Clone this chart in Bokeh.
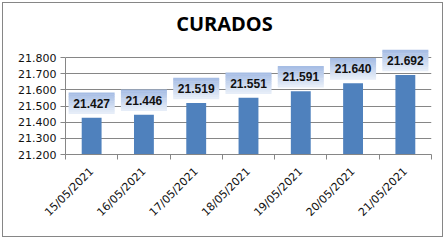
import math
from bokeh.plotting import figure
from bokeh.models import (Range1d, NumeralTickFormatter, Label, LabelSet,
                          ColumnDataSource, FixedTicker)
from bokeh.core.properties import value
from bokeh.embed import file_html
from bokeh.resources import INLINE

dates = ["15/05/2021", "16/05/2021", "17/05/2021", "18/05/2021",
         "19/05/2021", "20/05/2021", "21/05/2021"]
values = [21.427, 21.446, 21.519, 21.551, 21.591, 21.640, 21.692]
labels = ["21.427", "21.446", "21.519", "21.551", "21.591", "21.640", "21.692"]
y_ticks = [21.2, 21.3, 21.4, 21.5, 21.6, 21.7, 21.8]
title_text = "CURADOS"

xs = [i + 0.5 for i in range(len(dates))]

W, H = 441, 235          # inner size (inside a 1px css border placed at 2px)
OFF = 3                  # page offset of the figure's content
ymin, ymax = 21.2, 21.8
axis_top_px = 57 - OFF   # canvas y of 21.800
axis_bot_px = 154 - OFF  # canvas y of 21.200
px_per_unit = (axis_bot_px - axis_top_px) / (ymax - ymin)
frame_top_px = 6 - OFF
BL = 65 - OFF
BR = W - (431 - OFF)
BT = frame_top_px
BB = H - axis_bot_px
ytop = ymax + (axis_top_px - frame_top_px) / px_per_unit

p = figure(width=W, height=H, x_range=Range1d(0, len(dates)), y_range=Range1d(ymin, ytop),
           output_backend="svg", toolbar_location=None,
           min_border_left=BL, min_border_right=BR, min_border_top=BT, min_border_bottom=BB)
p.styles = {"position": "absolute", "left": "2px", "top": "2px",
            "border": "1px solid #868686"}
p.outline_line_color = None
p.background_fill_color = "white"
p.border_fill_color = "white"

p.vbar(x=xs, top=values, bottom=ymin, width=0.38, fill_color="#4f81bd", line_color=None)

# gradient boxes for data labels
box_h = 21
gap = 4
n = 12
top_col = (0xa6, 0xbd, 0xe4)
bot_col = (0xe6, 0xed, 0xf8)
strip = box_h / n
for i in range(n):
    t = i / (n - 1)
    c = tuple(int(round(top_col[k] * (1 - t) + bot_col[k] * t)) for k in range(3))
    col = "#%02x%02x%02x" % c
    off_px = gap + box_h - (i + 0.5) * strip
    ys = [v + off_px / px_per_unit for v in values]
    p.rect(x=xs, y=ys, width=46, height=strip + 0.6, width_units="screen",
           height_units="screen", fill_color=col, line_color=None)

src = ColumnDataSource(dict(x=xs, y=[v + (gap + box_h / 2) / px_per_unit for v in values], t=labels))
p.add_layout(LabelSet(x="x", y="y", text="t", source=src, text_align="center",
                      text_baseline="middle", text_font=value("Liberation Sans"),
                      text_font_style="bold", text_font_size="12px", text_color="#111111"))

# y axis
p.yaxis.ticker = FixedTicker(ticks=y_ticks)
p.yaxis.bounds = (ymin, ymax)
p.yaxis.formatter = NumeralTickFormatter(format="0.000")
p.yaxis.major_label_text_font = "DejaVu Sans"
p.yaxis.major_label_text_font_size = "11px"
p.yaxis.major_label_text_color = "#111111"
p.yaxis.axis_line_color = "#868686"
p.yaxis.major_tick_line_color = "#868686"
p.yaxis.major_tick_in = 0
p.yaxis.major_tick_out = 5
p.yaxis.minor_tick_line_color = None
p.yaxis.major_label_standoff = 4

# x axis: labels at centres, minor ticks at category boundaries
p.xaxis.ticker = FixedTicker(ticks=xs, minor_ticks=list(range(len(dates) + 1)))
p.xaxis.major_label_overrides = {x: d for x, d in zip(xs, dates)}
p.xaxis.major_label_orientation = math.pi / 4
p.xaxis.major_label_text_font = "DejaVu Sans"
p.xaxis.major_label_text_font_size = "11px"
p.xaxis.major_label_text_color = "#111111"
p.xaxis.axis_line_color = "#868686"
p.xaxis.major_tick_line_color = None
p.xaxis.major_tick_in = 0
p.xaxis.major_tick_out = 5
p.xaxis.minor_tick_line_color = "#868686"
p.xaxis.minor_tick_in = 0
p.xaxis.minor_tick_out = 5
p.xaxis.major_label_standoff = 10

p.xgrid.grid_line_color = None
p.ygrid.grid_line_color = "#868686"
p.ygrid.grid_line_width = 1

p.add_layout(Label(x=(W / 2) - BL + 0.5, y=(H - BB - BT) - (23 - OFF - BT), x_units="screen", y_units="screen",
                   text=title_text, text_align="center", text_baseline="middle",
                   text_font="Open Sans", text_font_style="bold", text_font_size="20px",
                   text_color="black"))

open("out.html", "w").write(file_html(p, INLINE))
